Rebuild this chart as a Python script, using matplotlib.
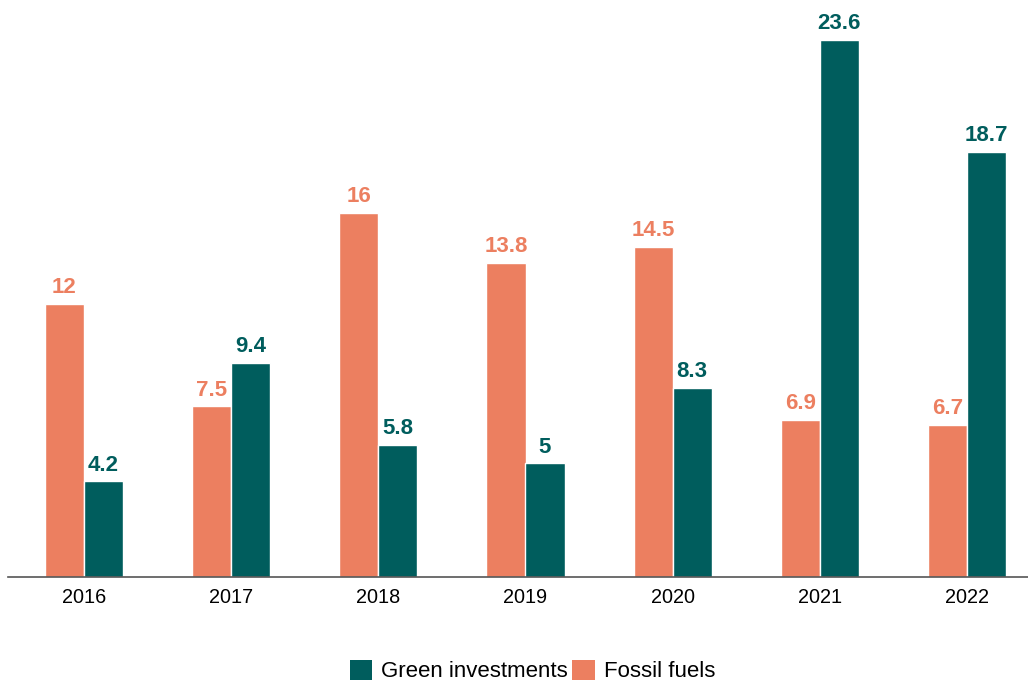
import numpy as np
import matplotlib.pyplot as plt
from matplotlib.patches import Patch

plt.rcParams['font.family'] = ['Liberation Sans', 'DejaVu Sans']

years = ['2016', '2017', '2018', '2019', '2020', '2021', '2022']
fossil = [12, 7.5, 16, 13.8, 14.5, 6.9, 6.7]
green = [4.2, 9.4, 5.8, 5, 8.3, 23.6, 18.7]

orange = '#EC7F60'
teal = '#005D5D'

fig = plt.figure(figsize=(10.28, 6.84), dpi=100)
ax = fig.add_axes([10.4 / 1028, 0.1564, 1030.2 / 1028, 0.8436])

x = np.arange(len(years))
w = 0.265
b1 = ax.bar(x - w / 2, fossil, w, color=orange, edgecolor='white', linewidth=1)
b2 = ax.bar(x + w / 2, green, w, color=teal, edgecolor='white', linewidth=1)

for bars, vals, c in [(b1, fossil, orange), (b2, green, teal)]:
    for r, v in zip(bars, vals):
        ax.text(r.get_x() + r.get_width() / 2, v + 0.25, f'{v:g}', ha='center', va='bottom',
                color=c, fontsize=16, fontweight='bold')

ax.set_xlim(-0.5, len(years) - 0.5)
ax.set_ylim(0, 25.36)
ax.set_xticks(x)
ax.set_xticklabels(years, fontsize=14.3)
ax.tick_params(axis='x', length=0, pad=8)
ax.set_yticks([])
for s in ['top', 'right', 'left']:
    ax.spines[s].set_visible(False)
ax.spines['bottom'].set_color('#555555')
ax.spines['bottom'].set_linewidth(1.2)
ax.spines['bottom'].set_bounds(-0.5 - 2.4 / 147.2, 6.5)

handles = [Patch(facecolor=teal, label='Green investments'), Patch(facecolor=orange, label='Fossil fuels')]
fig.legend(handles=handles, loc='center', bbox_to_anchor=(0.518, 0.019), ncol=2, frameon=False,
           fontsize=16, handlelength=1.0, handleheight=1.0, handletextpad=0.4, columnspacing=0.2,
           borderaxespad=0, borderpad=0.1)

fig.savefig('out.png', dpi=100)
